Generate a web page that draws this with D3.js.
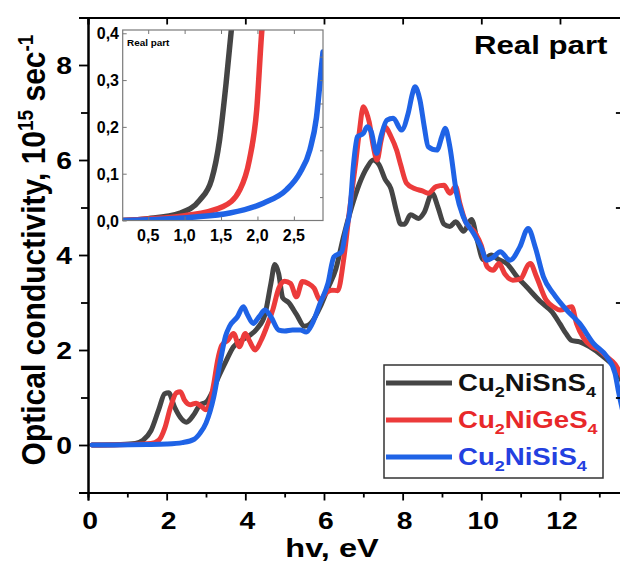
<!DOCTYPE html>
<html><head><meta charset="utf-8">
<script src="https://cdn.jsdelivr.net/npm/d3@7/dist/d3.min.js"></script>
<style>body{margin:0;background:#fff}svg{display:block}text{font-family:"Liberation Sans",Arial,sans-serif;font-weight:bold}</style>
</head><body>
<svg id="c" width="620" height="563"></svg>
<script>
// ---------- data ----------
const seriesNames = ["Cu2NiSnS4", "Cu2NiGeS4", "Cu2NiSiS4"];
const seriesColors = ["#454545", "#ec3b3b", "#1f63e6"];
const xTicks = [0, 2, 4, 6, 8, 10, 12];
const yTicks = [0, 2, 4, 6, 8];
const insetXTicks = [0.5, 1.0, 1.5, 2.0, 2.5];
const insetYTicks = [0.0, 0.1, 0.2, 0.3, 0.4];

const snsData = [[0.1,0],[0.8,0.01],[1.2,0.03],[1.4,0.1],[1.6,0.3],[1.8,0.75],[1.95,1.08],[2.05,1.1],[2.2,0.8],[2.35,0.58],[2.5,0.48],[2.7,0.65],[2.85,0.85],[3.0,0.9],[3.15,1.1],[3.3,1.4],[3.5,1.75],[3.7,2.07],[3.9,2.2],[4.1,2.3],[4.3,2.45],[4.5,2.75],[4.65,3.4],[4.75,3.8],[4.85,3.6],[4.95,3.1],[5.1,3.0],[5.3,2.75],[5.5,2.5],[5.7,2.6],[5.9,2.9],[6.1,3.3],[6.3,3.7],[6.5,4.4],[6.7,5.0],[6.9,5.5],[7.1,5.85],[7.25,6.0],[7.4,5.9],[7.55,5.6],[7.7,5.4],[7.85,4.9],[7.95,4.65],[8.05,4.65],[8.2,4.85],[8.4,4.77],[8.55,4.9],[8.75,5.3],[8.9,5.0],[9.05,4.65],[9.2,4.6],[9.35,4.7],[9.55,4.5],[9.75,4.75],[9.9,4.3],[10.05,3.9],[10.25,4.0],[10.45,3.9],[10.65,3.82],[10.9,3.55],[11.15,3.33],[11.5,3.02],[11.8,2.8],[12.0,2.55],[12.15,2.35],[12.3,2.2],[12.5,2.17],[12.75,2.07],[13.1,1.86],[13.44,1.58],[13.6,1.3]];
const gesData = [[0.1,0],[1.0,0.01],[1.6,0.03],[1.8,0.1],[1.95,0.35],[2.1,0.8],[2.25,1.1],[2.35,1.12],[2.45,0.95],[2.6,0.85],[2.75,0.88],[2.9,0.8],[3.0,0.74],[3.1,0.9],[3.2,1.3],[3.3,1.8],[3.4,2.1],[3.55,2.2],[3.7,2.35],[3.85,2.07],[4.0,2.35],[4.1,2.2],[4.25,2.0],[4.4,2.2],[4.55,2.5],[4.7,2.85],[4.85,3.3],[5.0,3.45],[5.15,3.4],[5.3,3.12],[5.45,3.44],[5.6,3.4],[5.75,3.3],[5.9,3.05],[6.05,3.2],[6.2,3.26],[6.35,3.25],[6.5,3.9],[6.65,4.95],[6.8,5.9],[6.9,6.6],[7.0,7.12],[7.08,7.0],[7.15,6.8],[7.25,6.3],[7.35,6.0],[7.45,6.4],[7.55,6.7],[7.7,6.5],[7.85,6.2],[7.95,5.9],[8.1,5.51],[8.3,5.4],[8.5,5.35],[8.65,5.3],[8.85,5.44],[9.05,5.47],[9.2,5.3],[9.35,5.44],[9.45,5.1],[9.6,4.7],[9.85,4.46],[10.0,4.2],[10.15,3.75],[10.3,3.68],[10.45,3.82],[10.6,3.6],[10.8,3.47],[11.0,3.5],[11.2,3.8],[11.25,3.82],[11.4,3.55],[11.65,3.05],[11.85,2.9],[12.0,2.84],[12.3,2.91],[12.42,2.56],[12.6,2.25],[12.8,2.08],[13.0,2.0],[13.2,1.85],[13.4,1.7],[13.6,1.4]];
const sisData = [[0.1,0],[1.5,0.01],[2.0,0.02],[2.4,0.05],[2.7,0.12],[2.85,0.25],[3.0,0.46],[3.2,1.02],[3.35,1.7],[3.5,2.3],[3.6,2.5],[3.8,2.7],[3.95,2.91],[4.05,2.75],[4.2,2.56],[4.35,2.7],[4.5,2.84],[4.65,2.7],[4.85,2.42],[5.0,2.4],[5.2,2.42],[5.4,2.42],[5.55,2.38],[5.7,2.55],[5.9,2.98],[6.1,3.4],[6.25,3.96],[6.45,4.07],[6.55,4.5],[6.66,4.95],[6.75,5.9],[6.85,6.49],[7.0,6.56],[7.1,6.7],[7.2,6.6],[7.34,6.14],[7.45,6.5],[7.6,6.84],[7.76,6.88],[7.97,6.63],[8.14,6.98],[8.25,7.4],[8.31,7.54],[8.44,7.26],[8.55,6.7],[8.65,6.28],[8.87,6.21],[9.0,6.5],[9.08,6.67],[9.2,6.28],[9.37,5.3],[9.54,4.81],[9.8,4.46],[10.0,4.15],[10.14,3.89],[10.3,3.95],[10.48,4.07],[10.73,3.89],[10.98,4.17],[11.19,4.56],[11.37,4.17],[11.58,3.54],[11.83,3.19],[12.17,2.84],[12.5,2.56],[12.85,2.14],[13.19,1.86],[13.4,1.51],[13.48,1.16],[13.6,0.7]];

const insetSnS = [[0.15,0],[0.5,0.004],[0.94,0.016],[1.21,0.044],[1.37,0.087],[1.48,0.172],[1.57,0.294],[1.64,0.405],[1.66,0.44]];
const insetGeS = [[0.15,0],[0.5,0.003],[1.0,0.01],[1.53,0.03],[1.76,0.066],[1.89,0.13],[1.99,0.237],[2.06,0.405],[2.08,0.44]];
const insetSiS = [[0.15,0],[0.6,0.002],[1.1,0.007],[1.62,0.016],[2.08,0.037],[2.4,0.066],[2.58,0.101],[2.72,0.151],[2.81,0.22],[2.88,0.33],[2.9,0.36]];

// ---------- layout ----------
const SX = 1.18; // horizontal stretch of text
const svg = d3.select("#c");
const x = d3.scaleLinear([0, 13.6], [88, 622.9]);
const y = d3.scaleLinear([-1, 9], [492.5, 17.5]);
const xi = d3.scaleLinear([0.15, 2.9], [122.7, 323]);
const yi = d3.scaleLinear([0, 0.407], [220.5, 30]);

function stext(parent, tx, ty, size, anchor, fill, sx, rot) {
  return parent.append("text")
    .attr("transform", `translate(${tx},${ty}) scale(${sx},1)` + (rot ? ` rotate(${rot})` : ""))
    .attr("text-anchor", anchor).attr("font-size", size).attr("fill", fill);
}

svg.append("defs").append("clipPath").attr("id", "clipMain")
  .append("rect").attr("x", x(0)).attr("y", y(9)).attr("width", x(13.6) - x(0)).attr("height", y(-1) - y(9));
svg.select("defs").append("clipPath").attr("id", "clipInset")
  .append("rect").attr("x", xi(0.15)).attr("y", yi(0.407)).attr("width", xi(2.9) - xi(0.15)).attr("height", yi(0) - yi(0.407));

// main curves
const line = d3.line().x(d => x(d[0])).y(d => y(d[1])).curve(d3.curveMonotoneX);
const gMain = svg.append("g").attr("clip-path", "url(#clipMain)");
[snsData, gesData, sisData].forEach((s, i) => {
  gMain.append("path").attr("d", line(s)).attr("fill", "none")
    .attr("stroke", seriesColors[i]).attr("stroke-width", 5)
    .attr("stroke-linejoin", "round").attr("stroke-linecap", "round");
});

// axes (frame)
const axW = 2;
const gx = svg.append("g").attr("transform", `translate(0,${y(-1)})`)
  .call(d3.axisBottom(x).tickValues(xTicks).tickSize(8).tickFormat(""));
const gxm = svg.append("g").attr("transform", `translate(0,${y(-1)})`)
  .call(d3.axisBottom(x).tickValues(d3.range(1, 14, 2)).tickSize(5).tickFormat(""));
const gt = svg.append("g").attr("transform", `translate(0,${y(9)})`)
  .call(d3.axisBottom(x).tickValues(xTicks).tickSize(7).tickFormat(""));
const gy = svg.append("g").attr("transform", `translate(${x(0)},0)`)
  .call(d3.axisLeft(y).tickValues(yTicks).tickSize(9).tickFormat(""));
const gym = svg.append("g").attr("transform", `translate(${x(0)},0)`)
  .call(d3.axisLeft(y).tickValues([-1,1,3,5,7,9]).tickSize(7).tickFormat(""));
const gr = svg.append("g").attr("transform", `translate(${x(13.6)},0)`)
  .call(d3.axisLeft(y).tickValues([1,3,5,7]).tickSize(7).tickFormat(""));
[gx, gxm, gt, gy, gym, gr].forEach(g => {
  g.selectAll("path").attr("stroke", "#000").attr("stroke-width", axW);
  g.selectAll("line").attr("stroke", "#000").attr("stroke-width", 1.8);
});

// tick labels
xTicks.forEach(v => stext(svg, x(v) + 2, 529, 24, "middle", "#000", SX).text(v));
yTicks.forEach(v => stext(svg, 72, y(v) + 9, 24, "end", "#000", SX).text(v));

// axis titles
stext(svg, 332, 557, 26, "middle", "#000", 1.25).text("hv, eV");
const yl = stext(svg, 45, 250, 30, "middle", "#000", 1.12, -90);
yl.append("tspan").text("Optical conductivity, 10");
yl.append("tspan").attr("font-size", 19).attr("dy", -11).text("15");
yl.append("tspan").attr("dy", 11).text(" sec");
yl.append("tspan").attr("font-size", 19).attr("dy", -11).text("-1");

stext(svg, 474, 54, 26, "start", "#000", 1.2).text("Real part");

// ---------- inset ----------
svg.append("rect").attr("x", xi(0.15)).attr("y", yi(0.407))
  .attr("width", xi(2.9) - xi(0.15)).attr("height", yi(0) - yi(0.407))
  .attr("fill", "#fff").attr("stroke", "none");
const lineI = d3.line().x(d => xi(d[0])).y(d => yi(d[1])).curve(d3.curveMonotoneX);
const gIn = svg.append("g").attr("clip-path", "url(#clipInset)");
[insetSnS, insetGeS, insetSiS].forEach((s, i) => {
  gIn.append("path").attr("d", lineI(s)).attr("fill", "none")
    .attr("stroke", seriesColors[i]).attr("stroke-width", 5.5).attr("stroke-linecap", "round");
});
const ib = svg.append("g").attr("transform", `translate(0,${yi(0)})`)
  .call(d3.axisTop(xi).tickValues(insetXTicks).tickSize(4).tickFormat(""));
const it = svg.append("g").attr("transform", `translate(0,${yi(0.407)})`)
  .call(d3.axisBottom(xi).tickValues(insetXTicks).tickSize(4).tickFormat(""));
const il = svg.append("g").attr("transform", `translate(${xi(0.15)},0)`)
  .call(d3.axisRight(yi).tickValues(insetYTicks).tickSize(4).tickFormat(""));
const ir = svg.append("g").attr("transform", `translate(${xi(2.9)},0)`)
  .call(d3.axisLeft(yi).tickValues(d3.range(0.05, 0.4, 0.05)).tickSize(3).tickFormat(""));
[ib, it, il, ir].forEach(g => {
  g.selectAll("path").attr("stroke", "none");
  g.selectAll("line").attr("stroke", "#777").attr("stroke-width", 1);
});
svg.append("rect").attr("x", xi(0.15)).attr("y", yi(0.407))
  .attr("width", xi(2.9) - xi(0.15)).attr("height", yi(0) - yi(0.407))
  .attr("fill", "none").attr("stroke", "#7a7a7a").attr("stroke-width", 1.2);
const fmt = v => v.toFixed(1).replace(".", ",");
insetXTicks.forEach(v => stext(svg, xi(v), 241, 16, "middle", "#000", 1.0).text(fmt(v)));
insetYTicks.forEach(v => stext(svg, 119, yi(v) + 6, 16, "end", "#000", 1.0).text(fmt(v)));
stext(svg, 127, 46, 9, "start", "#000", 1.1).text("Real part");

// ---------- legend ----------
svg.append("rect").attr("x", 384).attr("y", 365).attr("width", 219).attr("height", 113)
  .attr("fill", "#fff").attr("stroke", "#333").attr("stroke-width", 1.5);
const legY = [383, 420, 457];
const legTextColors = ["#111", "#e8282a", "#2340e0"];
seriesNames.forEach((n, i) => {
  svg.append("line").attr("x1", 386).attr("x2", 452).attr("y1", legY[i]).attr("y2", legY[i])
    .attr("stroke", seriesColors[i]).attr("stroke-width", 5);
  const m = n.match(/^(Cu)(2)(Ni[A-Za-z]+S)(4)$/);
  const t = stext(svg, 458, legY[i] + 8, 23, "start", legTextColors[i], 1.2);
  t.append("tspan").text(m[1]);
  t.append("tspan").attr("font-size", 15).attr("dy", 6).text(m[2]);
  t.append("tspan").attr("dy", -6).text(m[3]);
  t.append("tspan").attr("font-size", 15).attr("dy", 6).text(m[4]);
});
</script>
</body></html>
